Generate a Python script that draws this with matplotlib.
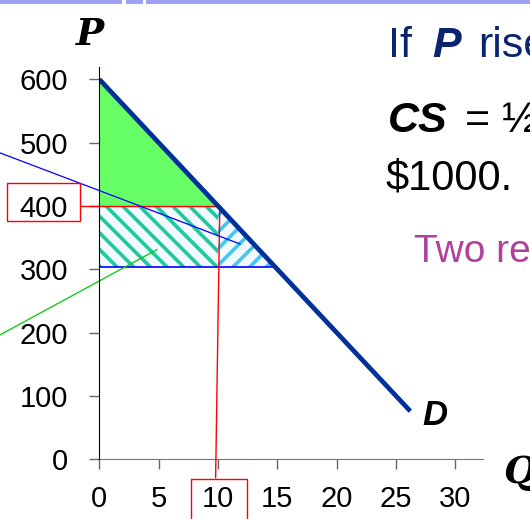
import matplotlib
matplotlib.use("Agg")
import matplotlib.pyplot as plt
from matplotlib.patches import Rectangle, FancyBboxPatch

# demand curve and the two prices
demandQ = [0, 26.2]
demandP = [600, 76]
pHigh = 400
pLow = 304
qHigh = 10

# shaded areas
csGreenQ = [0, 0, 10]
csGreenP = [600, 400, 400]
lossRectQ = [0, 10, 10, 0]
lossRectP = [400, 400, 304, 304]
lossTriQ = [10, 10, 14.8]
lossTriP = [400, 304, 304]

# pointer lines coming in from the left of the slide
bluePtrQ = [-8.4, 11.85]
bluePtrP = [484, 340]
greenPtrQ = [-8.4, 4.85]
greenPtrP = [196, 331]

xTicks = [0, 5, 10, 15, 20, 25, 30]
yTicks = [0, 100, 200, 300, 400, 500, 600]

plt.rcParams["font.family"] = ["Liberation Sans", "DejaVu Sans"]
plt.rcParams["hatch.linewidth"] = 2.6

W, H = 530, 519
fig = plt.figure(figsize=(W / 100, H / 100), dpi=100)
ax = fig.add_axes([99.3 / W, 59.7 / H, 383.4 / W, 392.7 / H])
ax.set_xlim(0, 32.3)
ax.set_ylim(0, 620)

ax.fill(csGreenQ, csGreenP, color="#66ff66", lw=0, zorder=1)
ax.fill(lossRectQ, lossRectP, facecolor="#f2f9ff", edgecolor="#1ec99e", hatch="\\\\", lw=0, zorder=1)
ax.fill(lossTriQ, lossTriP, facecolor="#f2f9ff", edgecolor="#44c8f2", hatch="//", lw=0, zorder=1)

ax.plot([0, 15], [pLow, pLow], color="#0000ff", lw=1.2, zorder=3)
ax.plot([-1.5, qHigh], [pHigh, pHigh], color="#ff0000", lw=1.0, zorder=3, clip_on=False)
ax.plot([10.15, 9.8], [pHigh, -29], color="#ff0000", lw=1.0, zorder=3, clip_on=False)
ax.plot(bluePtrQ, bluePtrP, color="#0000ff", lw=0.9, zorder=3, clip_on=False)
ax.plot(greenPtrQ, greenPtrP, color="#00cc00", lw=0.9, zorder=3, clip_on=False)
ax.plot(demandQ, demandP, color="#00309a", lw=3.4, solid_capstyle="butt", zorder=4)

ax.text(27.2, 54, "D", fontsize=25, fontweight="bold", fontstyle="italic", va="baseline", ha="left")

for s in ["top", "right"]:
    ax.spines[s].set_visible(False)
ax.spines["left"].set_color("black")
ax.spines["bottom"].set_color("#777777")
ax.spines["left"].set_zorder(5)
ax.set_xticks(xTicks)
ax.set_yticks(yTicks)
ax.set_xticklabels([str(v) for v in xTicks])
ax.set_yticklabels([str(v) for v in yTicks])
ax.tick_params(axis="both", direction="out", length=7.5, width=1.0, color="#666666", labelsize=21)
ax.tick_params(axis="y", pad=15)
ax.tick_params(axis="x", pad=11)

# red boxes round the 400 and 10 tick labels
fig.canvas.draw()
for lbl, (padL, padR, padT, padB) in [
    ([l for l in ax.get_yticklabels() if l.get_text() == "400"][0], (13, 12, 12, -2)),
    ([l for l in ax.get_xticklabels() if l.get_text() == "10"][0], (11, 13, 6, 20)),
]:
    bb = lbl.get_window_extent()
    fig.patches.append(Rectangle((bb.x0 - padL, bb.y0 - padB), bb.width + padL + padR,
                                 bb.height + padT + padB, transform=None,
                                 fill=False, ec="#ff0000", lw=1.0))

# axis letters
fig.text(90 / W, 1 - 45 / H, "P", family="DejaVu Serif", fontsize=27, fontweight="bold",
         fontstyle="italic", ha="center", va="baseline")
fig.text(503 / W, 1 - 483 / H, "Q", family="DejaVu Serif", fontsize=27, fontweight="bold",
         fontstyle="italic", ha="left", va="baseline")

# slide text on the right (cut off by the crop)
navy = "#0a2470"
fig.text(388 / W, 1 - 57 / H, "If", color=navy, fontsize=31, va="baseline")
fig.text(432 / W, 1 - 57 / H, "P", color=navy, fontsize=31, fontweight="bold", fontstyle="italic", va="baseline")
fig.text(478 / W, 1 - 57 / H, "rises", color=navy, fontsize=31, va="baseline")
fig.text(388 / W, 1 - 132 / H, "CS", color="black", fontsize=31, fontweight="bold", fontstyle="italic", va="baseline")
fig.text(465 / W, 1 - 132 / H, "= ½", color="black", fontsize=31, va="baseline")
fig.text(386 / W, 1 - 190 / H, "$1000.", color="black", fontsize=30, va="baseline")
fig.text(414 / W, 1 - 262 / H, "Two regions", color="#b0409c", fontsize=28, va="baseline")

# slide header strip
bandColor = "#a0a0f6"
fig.patches.append(Rectangle((0, 1 - 4 / H), 122 / W, 4 / H, transform=fig.transFigure,
                             color=bandColor, lw=0))
fig.patches.append(Rectangle((146 / W, 1 - 4 / H), 1 - 146 / W, 4 / H, transform=fig.transFigure,
                             color=bandColor, lw=0))
fig.patches.append(FancyBboxPatch((126 / W, 1 - 4 / H), 17 / W, 4 / H, transform=fig.transFigure,
                                  boxstyle="round,pad=0", color=bandColor, lw=0))

fig.savefig("out.png", dpi=100)
